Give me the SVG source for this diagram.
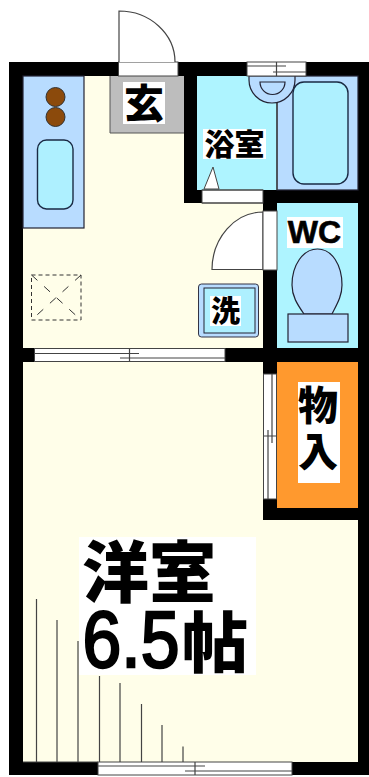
<svg xmlns="http://www.w3.org/2000/svg" width="369" height="777" viewBox="0 0 369 777">
<style>
.wall{fill:#000}
.op{fill:#fff;stroke:#444;stroke-width:1}
.ln{fill:none;stroke:#444;stroke-width:1.2}
.fx{fill:#b8dcff;stroke:#223;stroke-width:1.2}
.bn{fill:#aef0ff;stroke:#1a2a44;stroke-width:1.4}
.lb{fill:#fff}
.t{font-family:"Noto Sans CJK JP","Liberation Sans",sans-serif;font-weight:900;fill:#000;text-anchor:middle}
</style>
<rect width="369" height="777" fill="#fff"/>
<g id="floors">
<rect x="23" y="76" width="240" height="272" fill="#fffee9"/>
<rect x="23" y="362" width="335" height="400" fill="#fffee9"/>
<rect x="197" y="76" width="161" height="114" fill="#aef4ff"/>
<rect x="277" y="203" width="81" height="145" fill="#aef4ff"/>
</g>
<g id="walls">
<path class="wall" d="M9 62H119V76H23V762H98V775H9Z"/>
<path class="wall" d="M178 62H247V76H197V190H202V203H184V76H178Z"/>
<path class="wall" d="M306 62H369V775H292V762H358V520H263V499H277V508H358V362H277V374H263V270H277V348H358V203H277V211H263V190H358V76H306Z"/>
<rect class="wall" x="23" y="348" width="12" height="14"/>
<rect class="wall" x="225" y="348" width="52" height="14"/>
</g>
<g id="kitchen">
<rect class="fx" x="23" y="76" width="61" height="152"/>
<circle cx="55.5" cy="97" r="9.5" fill="#8b4a0c" stroke="#333"/>
<circle cx="55.5" cy="117" r="9.5" fill="#8b4a0c" stroke="#333"/>
<rect class="bn" x="37.5" y="140" width="35.500" height="69" rx="9"/>
</g>
<g id="entrance">
<rect x="110" y="76" width="74" height="57" fill="#bdbdbd"/>
<path d="M110 76V133H184" fill="none" stroke="#555"/>
<rect class="lb" x="123" y="82" width="42" height="42"/>
<text class="t" x="144" y="118" font-size="40">玄</text>
</g>
<g id="bath">
<rect class="fx" x="277" y="76" width="81" height="114" stroke="none"/>
<path d="M277 76V190" class="ln"/>
<path class="fx" d="M249 76V80A23 23 0 0 0 295 80V76Z"/>
<path class="fx" d="M260 82H285A12.500 12.500 0 0 1 260 82Z"/>
<rect class="bn" x="293" y="82" width="55" height="102" rx="11"/>
<path d="M204 189L213 167L219 189Z" fill="#fff" stroke="#444"/>
<rect class="lb" x="203" y="129" width="63" height="30"/>
<text class="t" x="234.500" y="155" font-size="30">浴室</text>
</g>
<g id="wc">
<path class="fx" d="M304 314C297 304 292 296 292 285C292 265 303 249 317.500 249C332 249 342 265 342 285C342 296 337 304 332 314Z"/>
<rect class="fx" x="288" y="314" width="60" height="28"/>
<rect class="lb" x="287" y="217" width="56" height="31"/>
<text x="314.500" y="243" font-family="Liberation Sans,sans-serif" font-weight="700" font-size="32" text-anchor="middle" stroke="#000" stroke-width=".6">WC</text>
</g>
<g id="washer">
<rect x="198.500" y="284" width="60" height="53" rx="3" fill="#b8dcff" stroke="#334"/>
<rect x="204" y="288" width="51" height="45" fill="#aef0ff" stroke="#223"/>
<rect class="lb" x="210" y="296" width="31" height="30"/>
<text class="t" x="225.500" y="322" font-size="29">洗</text>
</g>
<g id="closet">
<rect x="277" y="362" width="81" height="146" fill="#ff992e"/>
<rect class="lb" x="298" y="382" width="42" height="101"/>
<text x="318" y="385" font-family="Noto Sans CJK JP,sans-serif" font-weight="900" font-size="40" writing-mode="vertical-rl" text-anchor="start" letter-spacing="6">物入</text>
</g>
<g id="room">
<rect class="lb" x="79" y="537" width="177" height="138"/>
<text class="t" x="149" y="597" font-size="67">洋室</text>
<text x="131" y="667" font-family="Liberation Sans,sans-serif" font-weight="400" font-size="80" text-anchor="middle" textLength="97" lengthAdjust="spacingAndGlyphs" stroke="#000" stroke-width="2.500">6.5</text>
<text class="t" x="215" y="667" font-size="66">帖</text>
<rect x="31.500" y="275" width="49.500" height="45" fill="none" stroke="#333" stroke-dasharray="4 3"/>
<path d="M31.500 275L81 320M81 275L31.500 320" fill="none" stroke="#333" stroke-dasharray="8 9"/>
</g>
<g id="connectors">
<g id="entry-door">
<rect class="op" x="118.500" y="62" width="59.500" height="14" stroke="none"/>
<path d="M119 62V11A56 51 0 0 1 175 62" fill="#fff" stroke="#444" stroke-width="1.2"/>
</g>
<g id="bath-window">
<rect class="op" x="247" y="62" width="59" height="14"/>
<path class="ln" d="M247 66H286M273 72H306M276.500 62V76"/>
</g>
<g id="bath-door">
<rect class="op" x="202" y="190" width="61" height="13" stroke="none"/>
<path class="ln" d="M202 190H263M202 203H263"/>
</g>
<g id="wc-door">
<path d="M263 212A51 58 0 0 0 212 269.500H263Z" fill="#fff" stroke="#444" stroke-width="1.200"/>
<rect class="op" x="263" y="211" width="14" height="59" stroke="none"/>
</g>
<g id="mid-window">
<rect class="op" x="34.500" y="348.500" width="190.500" height="13"/>
<path class="ln" d="M34.500 353.500H139M120 358H225M129.500 348V362"/>
</g>
<g id="closet-door">
<rect class="op" x="263.500" y="374" width="13" height="125"/>
<path class="ln" d="M272 374V443M268 430V499M263 436H277"/>
</g>
<g id="bottom-window">
<rect class="op" x="98" y="762" width="194" height="13"/>
<path class="ln" d="M98 766H205M185 771H292M195 762V775"/>
</g>
<g id="stairs">
<path class="ln" d="M36.500 599V762M57 620V762M78 641V762M99.500 676V762M120 683V762M141.500 704V762M162 725V762M183 746.500V762"/>
<path class="ln" d="M23 762H98"/>
</g>
</g>
</svg>
